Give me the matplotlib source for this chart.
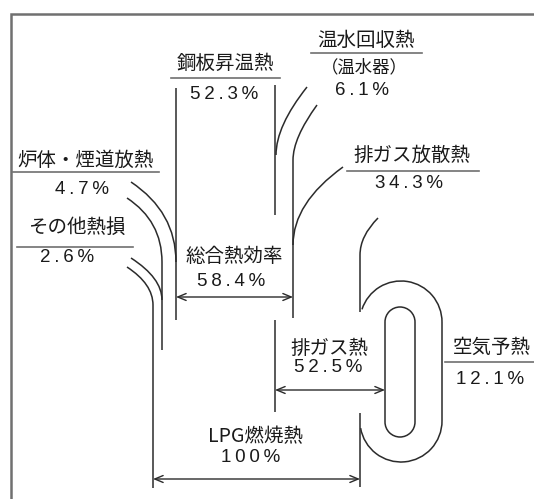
import matplotlib.pyplot as plt
from matplotlib.path import Path
from matplotlib.patches import PathPatch, FancyArrowPatch, Arc

# heat balance items (label, percent)
item_labels = ['LPG燃焼熱', '鋼板昇温熱', '温水回収熱', '排ガス放散熱',
               '炉体・煙道放熱', 'その他熱損', '総合熱効率', '排ガス熱', '空気予熱']
item_values = [100, 52.3, 6.1, 34.3, 4.7, 2.6, 58.4, 52.5, 12.1]
sub_note = '（温水器）'

W, H = 534, 499
LINE = '#2b2b2b'
GREY = '#707070'
TXT = '#1a1a1a'
CJK = ['Noto Sans CJK JP', 'DejaVu Sans']
NUM = ['Liberation Sans', 'DejaVu Sans']

fig = plt.figure(figsize=(W / 100, H / 100), dpi=100)
ax = fig.add_axes([0, 0, 1, 1])
ax.set_xlim(0, W)
ax.set_ylim(H, 0)
ax.axis('off')


def pct(v):
    return '\u2009'.join('{:g}%'.format(v))


def bez(p0, p1, p2, tail=None):
    # quadratic curve, optionally continued by a straight segment
    verts = [p0, p1, p2]
    codes = [Path.MOVETO, Path.CURVE3, Path.CURVE3]
    if tail is not None:
        verts.append(tail)
        codes.append(Path.LINETO)
    ax.add_patch(PathPatch(Path(verts, codes), fill=False, color=LINE, lw=1.1))


def vline(x, y0, y1):
    ax.plot([x, x], [y0, y1], color=LINE, lw=1.1, solid_capstyle='butt')


def arrow(x0, x1, y):
    ax.add_patch(FancyArrowPatch((x0, y), (x1, y), arrowstyle='<->,head_length=0.6,head_width=0.25',
                                 mutation_scale=10, shrinkA=0, shrinkB=0, color=LINE, lw=1.0))


def label(x, y, name, uline=None, size=14):
    ax.text(x, y, name, ha='center', va='center', fontsize=size, family=CJK, color=TXT)
    if uline is not None:
        ax.plot(uline[:2], [uline[2]] * 2, color=GREY, lw=1.2)


def number(x, y, val):
    ax.text(x, y, pct(val), ha='center', va='center', fontsize=13.5, family=NUM, color=TXT)


# frame
ax.plot([11, 11, W], [H, 14, 14], color=GREY, lw=1.8, solid_joinstyle='miter')

# left side of the band
vline(176, 88, 320)
bez((131, 182), (176, 212), (176, 262))
bez((127, 198), (162, 221), (162, 262), (162, 350))
bez((131, 258), (162, 278), (162, 300))
bez((127, 267), (153, 284), (153, 305), (153, 488))

# right side of the band
vline(275, 85, 215)
bez((307, 87), (276, 126), (276, 155))
bez((317, 105), (293, 138), (293, 160), (293, 318))
bez((343, 167), (293, 203), (293, 245))
bez((378, 218), (360, 236), (360, 255), (360, 312))
vline(275, 320, 412)
vline(360, 413, 487)

# air preheater loop
cx, r = 401, 41
ax.add_patch(Arc((cx, 322), 2 * r, 2 * r, theta1=198, theta2=360, color=LINE, lw=1.1))
vline(cx + r, 322, 421)
ax.add_patch(Arc((cx, 421), 2 * r, 2 * r, theta1=0, theta2=170, color=LINE, lw=1.1))
ri = 15
ax.add_patch(Arc((400, 322), 2 * ri, 2 * ri, theta1=180, theta2=360, color=LINE, lw=1.1))
ax.add_patch(Arc((400, 422), 2 * ri, 2 * ri, theta1=0, theta2=180, color=LINE, lw=1.1))
vline(400 - ri, 322, 422)
vline(400 + ri, 322, 422)

# dimension arrows
arrow(176, 293, 297)
arrow(275, 385, 390)
arrow(153, 360, 479)

v = dict(zip(item_labels, item_values))

# labels
label(225, 63, '鋼板昇温熱', (171, 280, 78))
number(224, 94, v['鋼板昇温熱'])

label(366, 40, '温水回収熱', (311, 422, 53))
ax.text(364, 67, sub_note, ha='center', va='center', fontsize=12.5, family=CJK, color=TXT)
number(362, 90, v['温水回収熱'])

label(412, 155, '排ガス放散熱', (347, 479, 171))
number(409, 183, v['排ガス放散熱'])

label(86, 160, '炉体・煙道放熱', (13, 159, 172))
number(82, 189, v['炉体・煙道放熱'])

label(77, 227, 'その他熱損', (17, 133, 247))
number(67, 257, v['その他熱損'])

label(234, 256, '総合熱効率')
number(231, 282, v['総合熱効率'])

label(329, 348, '排ガス熱')
number(328, 367, v['排ガス熱'])

label(492, 347, '空気予熱', (445, W, 362))
number(490, 380, v['空気予熱'])

label(255, 437, 'LPG燃焼熱')
number(251, 457, v['LPG燃焼熱'])

fig.savefig('out.png', dpi=100)
